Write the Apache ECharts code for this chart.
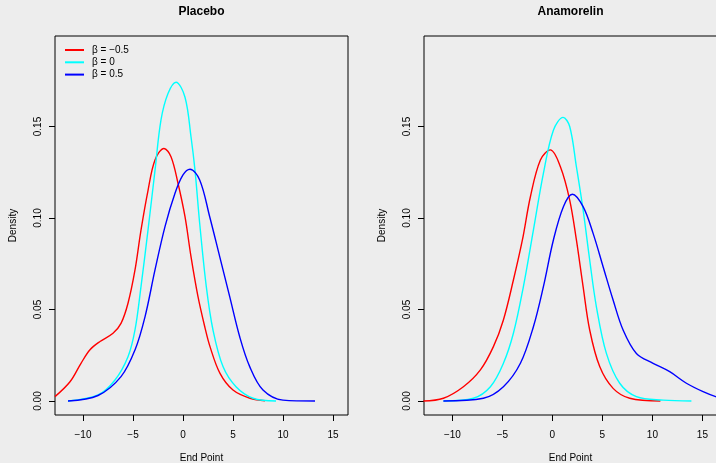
<!DOCTYPE html>
<html>
<head>
<meta charset="utf-8">
<script src="https://cdn.jsdelivr.net/npm/echarts@6/dist/echarts.min.js"></script>
<style>
  html, body { margin: 0; padding: 0; background: #ededed; }
  #chart { width: 716px; height: 463px; }
</style>
</head>
<body>
<div id="chart"></div>
<script>
// Axis ticks and labels
const xTicks = [-10, -5, 0, 5, 10, 15];
const yTicks = [0, 0.05, 0.10, 0.15];
const panelTitles = ['Placebo', 'Anamorelin'];
const betaNames = ['β = −0.5', 'β = 0', 'β = 0.5'];

// Kernel density estimates of the end point, placebo arm  [x, density]
const placeboNeg = [[-12.8,0.0024],[-11.3,0.0105],[-10.2,0.0206],[-9.3,0.028],[-8.3,0.0325],[-7.0,0.037],[-6.2,0.0424],[-5.5,0.0534],[-4.8,0.0716],[-4.2,0.0934],[-3.5,0.115],[-2.8,0.1317],[-1.9,0.138],[-1.2,0.1335],[-0.5,0.119],[0.2,0.1007],[0.8,0.0789],[1.5,0.057],[2.2,0.04],[2.7,0.0297],[3.7,0.0151],[5.0,0.006],[6.7,0.0015],[8.2,0.0001]];
const placeboZero = [[-11.5,0],[-8.5,0.0033],[-6.8,0.0115],[-5.5,0.0242],[-4.8,0.0388],[-4.2,0.0625],[-3.5,0.0934],[-2.8,0.126],[-2.2,0.1536],[-1.5,0.168],[-0.7,0.1742],[0.2,0.166],[0.8,0.1444],[1.2,0.126],[1.67,0.097],[2.33,0.0625],[3.0,0.0388],[4.0,0.0188],[5.3,0.0078],[7.0,0.0015],[9.3,0]];
const placeboPos = [[-11.5,0],[-8.5,0.003],[-6.2,0.0133],[-4.8,0.0279],[-3.8,0.046],[-2.8,0.0716],[-1.8,0.0953],[-0.8,0.1135],[0,0.1235],[0.7,0.1266],[1.67,0.1208],[2.67,0.1007],[3.67,0.0789],[4.67,0.057],[5.67,0.0351],[6.67,0.0188],[8.0,0.006],[10.0,0.0005],[13.2,0]];

// Kernel density estimates of the end point, anamorelin arm  [x, density]
const anamNeg = [[-12.9,0],[-10.9,0.0015],[-8.9,0.0078],[-7.2,0.017],[-5.9,0.0297],[-4.9,0.0443],[-3.9,0.0661],[-3.0,0.088],[-2.2,0.1116],[-1.2,0.1317],[-0.2,0.1372],[0.8,0.128],[1.73,0.1098],[2.4,0.088],[3.07,0.0625],[3.73,0.0388],[4.73,0.0188],[6.07,0.0069],[7.73,0.0015],[10.8,0]];
const anamZero = [[-10.9,0],[-7.9,0.0015],[-6.2,0.0078],[-4.9,0.0206],[-3.9,0.037],[-2.9,0.0625],[-1.9,0.0934],[-0.9,0.1244],[0.1,0.148],[1.07,0.155],[1.73,0.15],[2.4,0.128],[3.07,0.1044],[3.73,0.077],[4.4,0.0515],[5.4,0.026],[6.73,0.0097],[8.4,0.0024],[11.07,0.0005],[13.9,0]];
const anamPos = [[-10.9,0],[-6.9,0.0015],[-4.9,0.0078],[-3.2,0.0206],[-1.9,0.0406],[-0.9,0.0625],[0.1,0.088],[1.1,0.1062],[2.0,0.113],[3.07,0.1062],[4.07,0.0916],[5.07,0.0734],[6.07,0.0552],[7.07,0.0388],[8.4,0.026],[10.07,0.0206],[11.73,0.016],[13.4,0.0097],[15.07,0.0051],[16.33,0.0024],[17.5,0.001]];

const lineColors = ['#ff0000', '#00ffff', '#0000ff'];
const font = "'Liberation Sans', Arial, Helvetica, sans-serif";

// Panel geometry (pixels)
const panels = [
  { left: 55, xMin: -12.8, xMax: 16.5 },
  { left: 424, xMin: -12.84, xMax: 16.46 }
];
const gridTop = 36, gridHeight = 379, gridWidth = 293;
const yMin = -0.00765, yMax = 0.19945;

const fmtX = v => (v < 0 ? '\u2212' + Math.abs(v) : String(v));

const chart = echarts.init(document.getElementById('chart'), null, { renderer: 'canvas' });

const grids = panels.map(p => ({
  left: p.left, top: gridTop, width: gridWidth, height: gridHeight,
  show: true, borderColor: '#000', borderWidth: 1, backgroundColor: 'transparent',
  containLabel: false, outerBoundsMode: 'none'
}));

const xAxes = panels.map((p, i) => ({
  type: 'value', gridIndex: i, min: p.xMin, max: p.xMax,
  name: 'End Point', nameLocation: 'middle', nameGap: 38,
  nameTextStyle: { fontFamily: font, fontSize: 10, color: '#000' },
  axisLine: { show: false, onZero: false },
  axisTick: { show: true, inside: false, length: 6, customValues: xTicks, lineStyle: { color: '#000', width: 1 } },
  axisLabel: { show: true, customValues: xTicks, margin: 15, formatter: fmtX, fontFamily: font, fontSize: 10, color: '#000' },
  splitLine: { show: false }
}));

const yAxes = panels.map((p, i) => ({
  type: 'value', gridIndex: i, min: yMin, max: yMax,
  name: 'Density', nameLocation: 'middle', nameGap: 37, nameRotate: 90,
  nameTextStyle: { fontFamily: font, fontSize: 10, color: '#000' },
  axisLine: { show: false, onZero: false },
  axisTick: { show: true, inside: false, length: 6, customValues: yTicks, lineStyle: { color: '#000', width: 1 } },
  axisLabel: { show: true, customValues: yTicks, margin: 12, rotate: 90, formatter: v => v.toFixed(2), fontFamily: font, fontSize: 10, color: '#000' },
  splitLine: { show: false }
}));

const panelData = [
  [placeboNeg, placeboZero, placeboPos],
  [anamNeg, anamZero, anamPos]
];

const series = [];
panelData.forEach((sets, pi) => {
  sets.forEach((d, si) => {
    series.push({
      type: 'line', name: betaNames[si], data: d,
      xAxisIndex: pi, yAxisIndex: pi,
      symbol: 'none', showSymbol: false,
      smooth: 0.35, clip: true,
      lineStyle: { color: lineColors[si], width: 1.4 },
      itemStyle: { color: lineColors[si] },
      emphasis: { disabled: true }
    });
  });
});

chart.setOption({
  animation: false,
  backgroundColor: '#ededed',
  grid: grids,
  xAxis: xAxes,
  yAxis: yAxes,
  legend: {
    orient: 'vertical', left: 59, top: 40,
    itemWidth: 19, itemHeight: 10, itemGap: 2.3,
    itemStyle: { opacity: 0 },
    data: betaNames,
    selectedMode: false,
    textStyle: { fontFamily: font, fontSize: 10, color: '#000', padding: [0, 0, 0, 3] }
  },
  graphic: panels.map((p, i) => ({
    type: 'text', x: p.left + gridWidth / 2, y: 6,
    style: { text: panelTitles[i], fontFamily: font, fontSize: 12, fontWeight: 'bold', fill: '#000', align: 'center' }
  })),
  series: series
});
</script>
</body>
</html>
